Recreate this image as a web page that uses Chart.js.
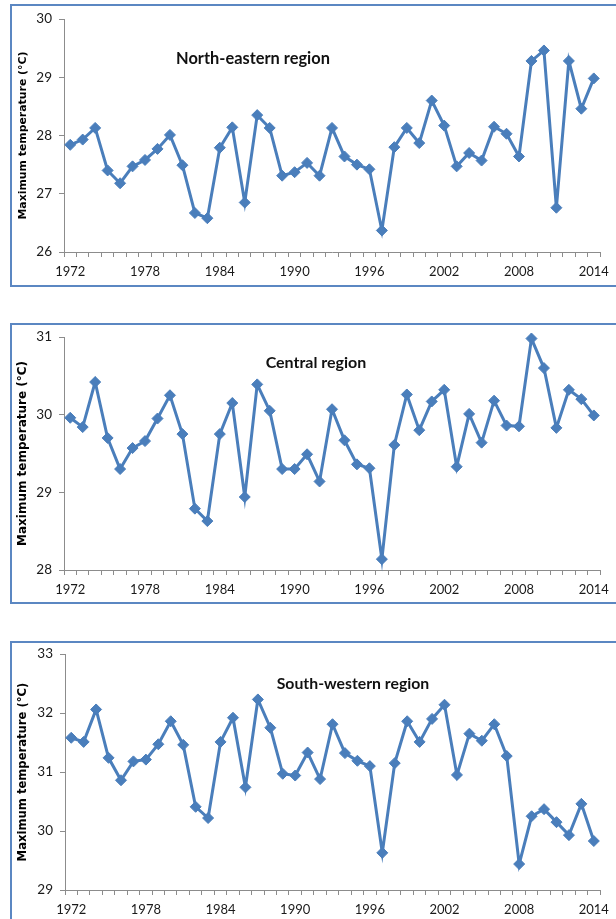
<!DOCTYPE html>
<html>
<head>
<meta charset="utf-8">
<script src="https://cdn.jsdelivr.net/npm/chart.js@4"></script>
<style>
  html, body { margin: 0; padding: 0; background: #fff; width: 616px; height: 919px; overflow: hidden; position: relative; }
  .box { position: absolute; left: 10px; width: 700px; border: 2px solid #5B87C2; border-right: none; box-sizing: border-box; }
  canvas { position: absolute; left: 0; }
  .ttl { position: absolute; font-family: Lato, "Open Sans", sans-serif; font-weight: bold; color: #111; white-space: nowrap; transform: translate(-50%, -50%); }
</style>
</head>
<body>
<div class="box" style="top:4px;height:283px;"></div>
<div class="box" style="top:323px;height:281px;"></div>
<div class="box" style="top:641px;height:300px;"></div>

<canvas id="c1" width="616" height="290" style="top:0px"></canvas>
<canvas id="c2" width="616" height="300" style="top:310px"></canvas>
<canvas id="c3" width="616" height="289" style="top:630px"></canvas>

<div class="ttl" style="left:253px;top:57px;font-size:16.4px;">North-eastern region</div>
<div class="ttl" style="left:316px;top:361px;font-size:16px;">Central region</div>
<div class="ttl" style="left:353px;top:682px;font-size:15.8px;">South-western region</div>

<script>
// ---- data ----
const years = ["1972","1973","1974","1975","1976","1977","1978","1979","1980","1981",
  "1982","1983","1984","1985","1986","1987","1988","1989","1990","1991",
  "1992","1993","1994","1995","1996","1997","1998","1999","2000","2001",
  "2002","2003","2004","2005","2006","2007","2008","2009","2010","2011",
  "2012","2013","2014"];

const northEastern = [27.84,27.93,28.13,27.40,27.18,27.47,27.58,27.77,28.01,27.49,
  26.67,26.58,27.79,28.14,26.85,28.35,28.13,27.31,27.37,27.53,
  27.31,28.13,27.64,27.50,27.42,26.37,27.80,28.13,27.87,28.60,
  28.17,27.47,27.70,27.57,28.15,28.03,27.64,29.28,29.46,26.76,
  29.28,28.46,28.98];

const central = [29.96,29.84,30.42,29.70,29.30,29.57,29.66,29.95,30.25,29.75,
  28.79,28.63,29.75,30.15,28.94,30.39,30.05,29.30,29.30,29.49,
  29.14,30.07,29.67,29.36,29.31,28.14,29.61,30.26,29.80,30.17,
  30.32,29.33,30.01,29.64,30.18,29.86,29.85,30.98,30.60,29.83,
  30.32,30.20,29.99];

const southWestern = [31.58,31.51,32.06,31.24,30.86,31.18,31.21,31.47,31.86,31.46,
  30.41,30.22,31.51,31.92,30.74,32.23,31.75,30.97,30.94,31.33,
  30.88,31.81,31.32,31.19,31.10,29.63,31.15,31.86,31.51,31.90,
  32.14,30.95,31.65,31.53,31.81,31.27,29.44,30.25,30.37,30.15,
  29.93,30.46,29.83];

const yRangeNE = [26, 30];
const yRangeC = [28, 31];
const yRangeSW = [29, 33];
const labelEvery = 6;
const yTitle = "Maximum temperature (\u00B0C)";

// ---- drawing ----
const LINE = "#4A7EBB";
const AXIS = "#8C8C8C";

function makeChart(id, values, range, geo) {
  const canvas = document.getElementById(id);
  const H = canvas.height;
  const xH = 30;
  new Chart(canvas, {
    type: "line",
    data: {
      labels: years,
      datasets: [{
        data: values,
        borderColor: LINE,
        backgroundColor: LINE,
        borderWidth: 3,
        pointStyle: "rectRot",
        pointRadius: 5.5,
        pointBorderWidth: 1,
        pointBackgroundColor: LINE,
        pointBorderColor: LINE,
        tension: 0,
        clip: false
      }]
    },
    options: {
      responsive: false,
      devicePixelRatio: 1,
      animation: false,
      events: [],
      layout: { padding: { left: 0, top: geo.top, right: 616 - geo.right, bottom: H - geo.bottom - xH } },
      plugins: { legend: { display: false }, tooltip: { enabled: false }, title: { display: false } },
      scales: {
        x: {
          type: "category",
          offset: true,
          grid: { offset: true, drawOnChartArea: false, drawTicks: true, tickLength: 5, color: AXIS },
          border: { display: true, color: AXIS, width: 1 },
          afterFit: s => { s.height = xH; },
          ticks: {
            autoSkip: false, maxRotation: 0, minRotation: 0, padding: 7,
            color: "#1a1a1a",
            font: { family: "Lato, 'Open Sans', sans-serif", size: 13 },
            callback: function (v, i) { return i % labelEvery === 0 ? years[i] : ""; }
          }
        },
        y: {
          min: range[0], max: range[1],
          grid: { drawOnChartArea: false, drawTicks: true, tickLength: 5, color: AXIS },
          border: { display: true, color: AXIS, width: 1 },
          afterFit: s => { s.width = geo.left; },
          ticks: {
            stepSize: 1, padding: 7, color: "#1a1a1a",
            font: { family: "Lato, 'Open Sans', sans-serif", size: 13.5 }
          },
          title: {
            display: true, text: yTitle, color: "#000",
            font: { family: "'DejaVu Sans', Verdana, sans-serif", size: geo.tsize, weight: "bold" },
            padding: { top: 23 - geo.tsize * 0.6, bottom: 0 }
          }
        }
      }
    }
  });
}

makeChart("c1", northEastern, yRangeNE, { left: 64, right: 604, top: 19, bottom: 252, tsize: 10.9 });
makeChart("c2", central, yRangeC, { left: 64, right: 606, top: 337 - 310, bottom: 570 - 310, tsize: 12 });
makeChart("c3", southWestern, yRangeSW, { left: 65, right: 608, top: 654 - 630, bottom: 890 - 630, tsize: 11.6 });
</script>
</body>
</html>
